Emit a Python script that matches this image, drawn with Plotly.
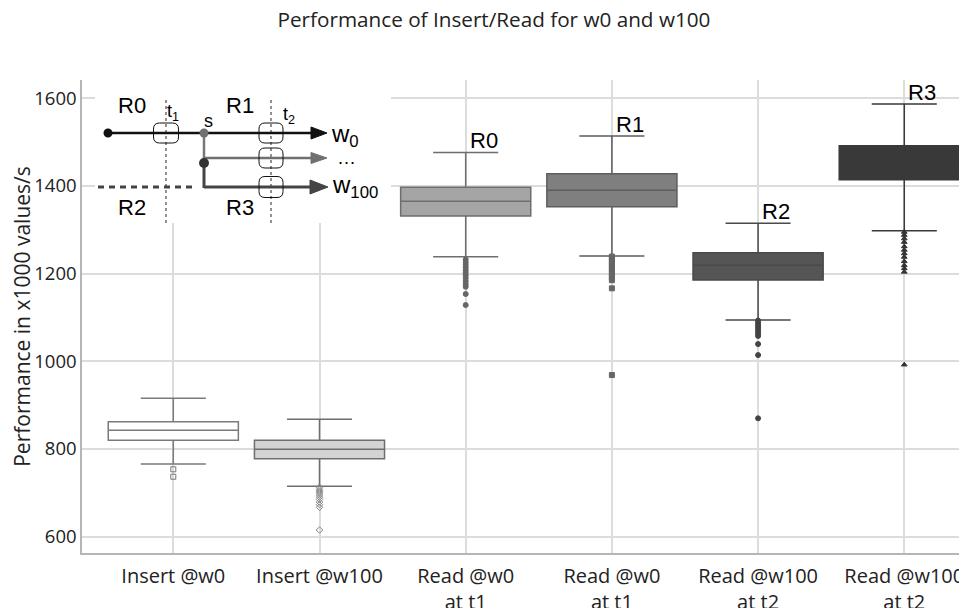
import plotly.graph_objects as go

# ---------------- data ----------------
labels = ["Insert @w0", "Insert @w100", "Read @w0<br>at t1", "Read @w0<br>at t1",
          "Read @w100<br>at t2", "Read @w100<br>at t2"]
region_tags = ["", "", "R0", "R1", "R2", "R3"]
q1_vals = [819.8, 777.9, 1331.3, 1352.6, 1185.4, 1414.1]
median_vals = [842.6, 799.3, 1364.9, 1390.0, 1218.9, 1455.0]
q3_vals = [862.3, 819.8, 1396.8, 1427.8, 1247.7, 1491.6]
lower_vals = [765.8, 714.9, 1238.5, 1240.1, 1094.2, 1297.8]
upper_vals = [915.6, 867.7, 1476.6, 1513.8, 1314.7, 1586.7]
outliers = [
    [753.7, 736.8],
    [713, 708, 704, 700, 695, 690, 685, 679, 673, 667, 615.2],
    [1232, 1226, 1220, 1214, 1208, 1202, 1196, 1190, 1183, 1176, 1170, 1153.5, 1128.4],
    [1239, 1233, 1227, 1221, 1215, 1209, 1203, 1197, 1191, 1185, 1166.5, 968.7],
    [1093, 1088, 1083, 1078, 1073, 1068, 1063, 1058, 1039.4, 1014.3, 870.0],
    [1295, 1288, 1280, 1272, 1262, 1254, 1246, 1238, 1228, 1219, 1212, 1204, 992.3],
]
yticks = [600, 800, 1000, 1200, 1400, 1600]

# ---------------- styles ----------------
fills = ["#ffffff", "#d3d3d3", "#a5a5a5", "#7f7f7f", "#555555", "#393939"]
edges = ["#7a7a7a", "#6e6e6e", "#6e6e6e", "#5e5e5e", "#4a4a4a", "#393939"]
symbols = ["square-open", "diamond-open", "circle", "square", "circle", "triangle-up"]
mcolors = ["#777777", "#888888", "#666666", "#666666", "#444444", "#333333"]

# page offset (default body margin of the html page)
OFF = 8
W, H = 967 - OFF, 608 - OFF
ML, MR, MT = 82 - OFF, 0, 80 - OFF
MB = H - (553 - OFF)

fig = go.Figure()
for i, lab in enumerate(labels):
    fig.add_trace(go.Box(
        x=[i], q1=[q1_vals[i]], median=[median_vals[i]], q3=[q3_vals[i]],
        lowerfence=[lower_vals[i]], upperfence=[upper_vals[i]],
        width=0.89, whiskerwidth=0.5, fillcolor=fills[i],
        line=dict(color=edges[i], width=1.5), boxpoints=False,
        showlegend=False, hoverinfo="skip"))
    fig.add_trace(go.Scatter(
        x=[i] * len(outliers[i]), y=outliers[i], mode="markers",
        marker=dict(symbol=symbols[i], size=5, color=mcolors[i],
                    line=dict(color=mcolors[i], width=1)),
        showlegend=False, hoverinfo="skip"))
    if region_tags[i]:
        fig.add_annotation(x=i, y=upper_vals[i], text=region_tags[i], showarrow=False,
                           xanchor="left", yanchor="bottom", xshift=2, yshift=-3,
                           font=dict(family="Liberation Sans", size=22, color="#000"))

# ---------------- inset diagram (decoration, screen pixel coords) ----------------
PW, PH = W - ML - MR, H - MT - MB

def px(x):
    return (x - OFF - ML) / PW

def py(y):
    return (H - MB - (y - OFF)) / PH

shapes = []

def rect(x0, y0, x1, y1, fill="white"):
    shapes.append(dict(type="rect", xref="paper", yref="paper",
                       x0=px(x0), x1=px(x1), y0=py(y0), y1=py(y1),
                       fillcolor=fill, line=dict(width=0), layer="above"))

def seg(x0, y0, x1, y1, color, width, dash="solid"):
    shapes.append(dict(type="line", xref="paper", yref="paper",
                       x0=px(x0), x1=px(x1), y0=py(y0), y1=py(y1),
                       line=dict(color=color, width=width, dash=dash), layer="above"))

def tri(xt, yt, length, half, color):
    path = "M{},{} L{},{} L{},{} Z".format(px(xt), py(yt), px(xt - length), py(yt - half),
                                            px(xt - length), py(yt + half))
    shapes.append(dict(type="path", xref="paper", yref="paper", path=path,
                       fillcolor=color, line=dict(color=color, width=1), layer="above"))

def dot(cx, cy, r, color):
    shapes.append(dict(type="circle", xref="paper", yref="paper",
                       x0=px(cx - r), x1=px(cx + r), y0=py(cy - r), y1=py(cy + r),
                       fillcolor=color, line=dict(color=color, width=0), layer="above"))

def rrect(cx, cy, w, h, r=6):
    x0, x1, y0, y1 = cx - w / 2, cx + w / 2, cy - h / 2, cy + h / 2
    pts = [("M", x0 + r, y0), ("L", x1 - r, y0), ("Q", x1, y0, x1, y0 + r),
           ("L", x1, y1 - r), ("Q", x1, y1, x1 - r, y1), ("L", x0 + r, y1),
           ("Q", x0, y1, x0, y1 - r), ("L", x0, y0 + r), ("Q", x0, y0, x0 + r, y0)]
    parts = []
    for p in pts:
        if p[0] == "Q":
            parts.append("Q{},{} {},{}".format(px(p[1]), py(p[2]), px(p[3]), py(p[4])))
        else:
            parts.append("{}{},{}".format(p[0], px(p[1]), py(p[2])))
    shapes.append(dict(type="path", xref="paper", yref="paper", path=" ".join(parts) + " Z",
                       line=dict(color="#111", width=1), layer="above"))

rect(95, 80, 391, 223)
seg(166, 100, 166, 226, "#222", 1, "3px,3px")
seg(271, 100, 271, 226, "#222", 1, "3px,3px")
seg(98, 187, 192, 187, "#444444", 3, "6px,5px")
seg(108, 133, 313, 133, "#111111", 2.5)
tri(327, 133, 16, 6, "#111111")
seg(204, 158, 313, 158, "#707070", 2.5)
tri(327, 158, 16, 5.5, "#707070")
seg(204, 187, 312, 187, "#444444", 3)
tri(328, 187, 18, 7, "#444444")
seg(204, 133, 204, 163, "#777777", 2.5)
seg(204, 163, 204, 188, "#444444", 3)
dot(108, 133, 4.5, "#111111")
dot(204, 133, 4.5, "#707070")
dot(204, 163, 5, "#333333")
rrect(166, 133, 25, 20)
rrect(271, 133, 24, 20)
rrect(271, 158, 24, 20)
rrect(271, 187, 24, 21)

def txt(x, y, s, size, xanchor="center", color="#000"):
    fig.add_annotation(x=px(x), y=py(y), xref="paper", yref="paper", text=s,
                       showarrow=False, xanchor=xanchor, yanchor="middle", borderpad=0,
                       font=dict(family="Liberation Sans", size=size, color=color))

txt(132, 106, "R0", 22)
txt(240, 106, "R1", 22)
txt(132, 207, "R2", 22)
txt(240, 207, "R3", 22)
txt(166, 112, "t<sub>1</sub>", 18, "left")
txt(208, 121, "s", 18)
txt(282, 116, "t<sub>2</sub>", 18, "left")
txt(330, 135, "w<sub>0</sub>", 24, "left")
txt(346, 157, "…", 19)
txt(331, 186, "w<sub>100</sub>", 24, "left")

fig.update_layout(
    width=W, height=H, autosize=False,
    margin=dict(l=ML, r=MR, t=MT, b=MB, autoexpand=False),
    paper_bgcolor="white", plot_bgcolor="white",
    font=dict(family="Open Sans", color="#222"),
    title=dict(text="Performance of Insert/Read for w0 and w100",
               x=(494 - OFF) / W, xref="container", xanchor="center",
               y=1 - (20 - OFF) / H, yref="container", yanchor="middle", automargin=False,
               font=dict(family="Open Sans", size=20.7, color="#222")),
    showlegend=False,
    shapes=shapes,
    xaxis=dict(range=[-0.6245, 5.429], tickvals=list(range(len(labels))), ticktext=labels,
               automargin=False, ticklabelstandoff=4,
               showgrid=True, gridcolor="#dcdcdc", gridwidth=1.5, zeroline=False,
               showline=True, linecolor="#b5b5b5", linewidth=1.5,
               tickfont=dict(family="Open Sans", size=20, color="#222")),
    yaxis=dict(range=[562.8, 1641.7], tickvals=yticks, automargin=False,
               showgrid=True, gridcolor="#dcdcdc", gridwidth=1.5, zeroline=False,
               showline=True, linecolor="#b5b5b5", linewidth=1.5,
               tickfont=dict(family="Open Sans", size=18.5, color="#222"),
               title=dict(text="Performance in x1000 values/s", standoff=8,
                          font=dict(family="Open Sans", size=21, color="#222"))),
)

fig.write_html("out.html")
